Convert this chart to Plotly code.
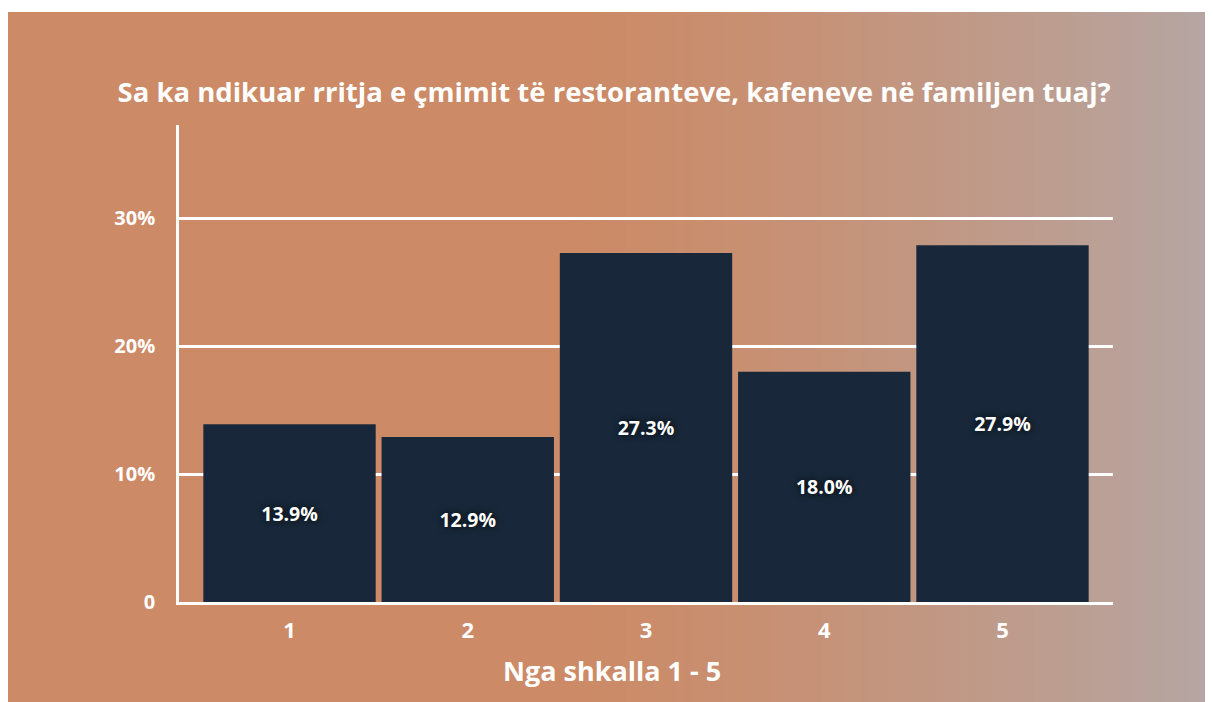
import plotly.graph_objects as go

categories = ["1", "2", "3", "4", "5"]
values = [13.9, 12.9, 27.3, 18.0, 27.9]
labels = ["13.9%", "12.9%", "27.3%", "18.0%", "27.9%"]
ytick_vals = [0, 10, 20, 30]
ytick_text = ["0", "10%", "20%", "30%"]
title = "Sa ka ndikuar rritja e çmimit të restoranteve, kafeneve në familjen tuaj?"
xtitle = "Nga shkalla 1 - 5"

W, H = 1205, 694
L, R, T, B = 171, 100, 117, 100
pw, ph = W - L - R, H - T - B

def px_to_paper_x(px):
    return (px - L) / pw

def py_to_paper_y(py):
    return (H - B - py) / ph

c0 = (204, 138, 102)
c1 = (181, 166, 163)
shapes = []
x_start, x_grad, x_end = -1, 552, W
y_top, y_bot = 4, H
shapes.append(dict(type="rect", xref="paper", yref="paper",
                   x0=px_to_paper_x(x_start), x1=px_to_paper_x(x_grad + 1),
                   y0=py_to_paper_y(y_bot), y1=py_to_paper_y(y_top),
                   fillcolor="rgb(%d,%d,%d)" % c0, line=dict(width=0), layer="below"))
n = 80
for i in range(n):
    a = x_grad + (x_end - x_grad) * i / n
    b = x_grad + (x_end - x_grad) * (i + 1) / n
    t = ((i + 0.5) / n) ** 1.3
    col = tuple(round(c0[k] + (c1[k] - c0[k]) * t) for k in range(3))
    shapes.append(dict(type="rect", xref="paper", yref="paper",
                       x0=px_to_paper_x(a), x1=px_to_paper_x(b + 1),
                       y0=py_to_paper_y(y_bot), y1=py_to_paper_y(y_top),
                       fillcolor="rgb(%d,%d,%d)" % col, line=dict(width=0), layer="below"))

FONT = "Open Sans"

fig = go.Figure(go.Bar(
    x=[1, 2, 3, 4, 5], y=values, text=labels,
    textposition="inside", insidetextanchor="middle",
    textfont=dict(family=FONT, size=19.5, color="white", weight="bold",
                  shadow="0px 0px 7px rgba(0,0,0,0.95)"),
    marker=dict(color="#18283A", line=dict(width=0)),
    cliponaxis=False,
))

fig.add_annotation(text=xtitle, xref="paper", yref="paper",
                   x=px_to_paper_x(W / 2 + 1), y=py_to_paper_y(662),
                   xanchor="center", yanchor="middle", showarrow=False,
                   font=dict(family=FONT, size=27, color="white", weight="bold"))

fig.update_layout(
    width=W, height=H,
    margin=dict(l=L, r=R, t=T, b=B, pad=0),
    paper_bgcolor="white", plot_bgcolor="rgba(0,0,0,0)",
    bargap=0.033,
    showlegend=False,
    shapes=shapes,
    title=dict(text=title, x=0.503, xanchor="center", y=1 - 84 / H, yanchor="middle",
               font=dict(family=FONT, size=27.5, color="white", weight="bold")),
    xaxis=dict(range=[0.38, 5.62], tickvals=[1, 2, 3, 4, 5], ticktext=categories,
               showgrid=False, zeroline=False, showline=True, linecolor="white", linewidth=2.5,
               ticks="", ticklabelstandoff=7,
               tickfont=dict(family=FONT, size=22, color="white", weight="bold")),
    yaxis=dict(range=[0, 37.3], tickvals=ytick_vals, ticktext=ytick_text,
               showgrid=True, gridcolor="white", gridwidth=2.5,
               zeroline=False, showline=True, linecolor="white", linewidth=2.5,
               ticks="", ticklabelstandoff=17,
               tickfont=dict(family=FONT, size=20, color="white", weight="bold")),
)

fig.write_html("out.html",
               post_script="document.documentElement.style.overflow='hidden';"
                           "document.body.style.overflow='hidden';")
